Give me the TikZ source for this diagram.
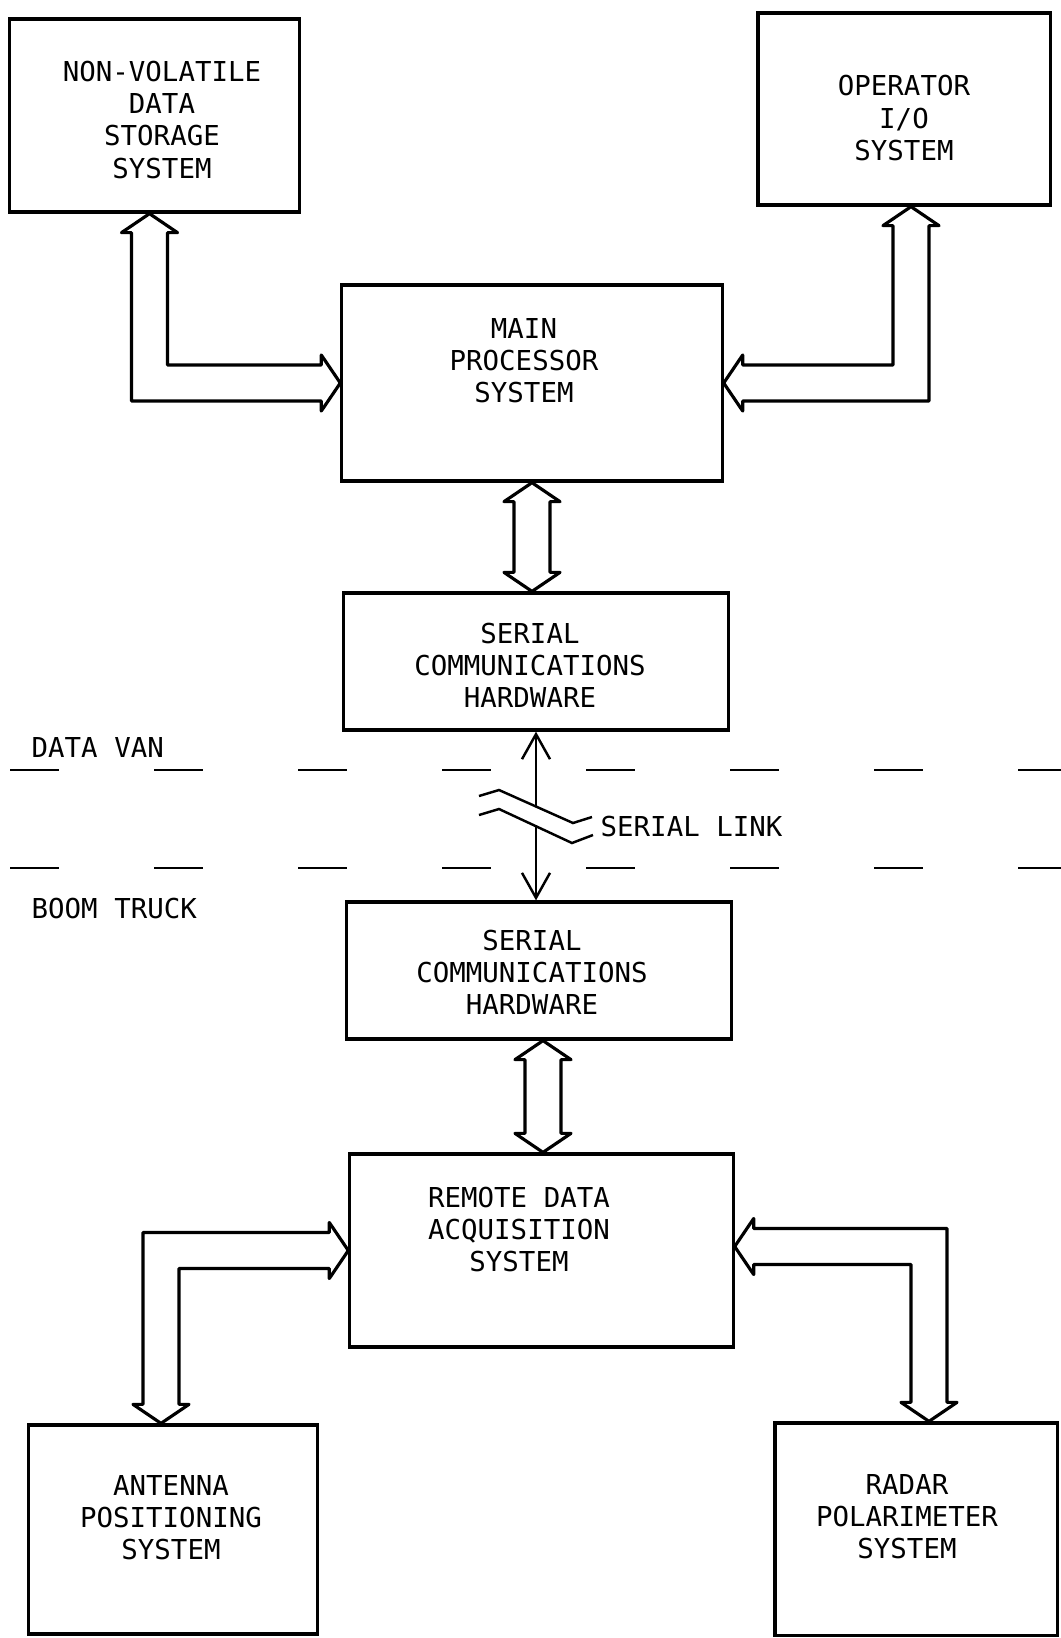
\documentclass[tikz,border=0pt]{standalone}
\usepackage{fontspec}
\usepackage{tikz}
\usetikzlibrary{arrows.meta,positioning,calc}
\newfontfamily\lettering{DejaVu Sans Mono}
\newcommand{\busw}{0.18cm}
\newcommand{\headw}{0.28cm}
\newcommand{\headl}{0.19cm}

\begin{document}
\begin{tikzpicture}[
  x=0.01cm, y=-0.01cm,
  box/.style={draw, line width=0.9pt, inner sep=0pt},
  txt/.style={font=\lettering\fontsize{7.8}{9.1}\selectfont, align=center, inner sep=0pt},
  lbl/.style={font=\lettering\fontsize{7.8}{9.1}\selectfont, inner sep=0pt},
  bus/.style={line width=0.9pt, line join=round},
  link/.style={line width=0.7pt},
  tip/.style={-{Straight Barb[length=2.5mm,width=2.8mm]}},
  divider/.style={line width=0.8pt}
]
  \useasboundingbox (0,0) rectangle (1061,1638);

  % boxes
  \node[box, minimum width=2.89cm, minimum height=1.93cm] (nv)     at (154.5,115.5)  {};
  \node[box, minimum width=2.92cm, minimum height=1.92cm] (op)     at (904,109)      {};
  \node[box, minimum width=3.80cm, minimum height=1.96cm] (main)   at (532,383)      {};
  \node[box, minimum width=3.84cm, minimum height=1.37cm] (ser1)   at (536,661.5)    {};
  \node[box, minimum width=3.84cm, minimum height=1.37cm] (ser2)   at (539,970.5)    {};
  \node[box, minimum width=3.83cm, minimum height=1.93cm] (remote) at (541.5,1250.5) {};
  \node[box, minimum width=2.88cm, minimum height=2.09cm] (ant)    at (173,1529.5)   {};
  \node[box, minimum width=2.82cm, minimum height=2.12cm] (radar)  at (916,1529)     {};

  % box texts
  \node[txt] (nvtxt)     at (162,120)  {NON-VOLATILE\\DATA\\STORAGE\\SYSTEM};
  \node[txt] (optxt)     at (904,118)  {OPERATOR\\I/O\\SYSTEM};
  \node[txt] (maintxt)   at (524,361)  {MAIN\\PROCESSOR\\SYSTEM};
  \node[txt] (ser1txt)   at (530,665)  {SERIAL\\COMMUNICATIONS\\HARDWARE};
  \node[txt] (ser2txt)   at (532,972)  {SERIAL\\COMMUNICATIONS\\HARDWARE};
  \node[txt] (remotetxt) at (519,1229) {REMOTE DATA\\ACQUISITION\\SYSTEM};
  \node[txt] (anttxt)    at (171,1518) {ANTENNA\\POSITIONING\\SYSTEM};
  \node[txt] (radartxt)  at (907,1517) {RADAR\\POLARIMETER\\SYSTEM};

  % van / truck divide
  \foreach \x in {10,154,...,1018} {
    \draw[divider] (\x,770) -- ++(49,0);
    \draw[divider] (\x,868) -- ++(49,0);
  }
  \node[lbl, anchor=west] (van)   at (31,747) {DATA VAN};
  \node[lbl, anchor=west] (truck) at (31,908) {BOOM TRUCK};

  % serial link with break
  \coordinate (brkA) at (536,806.5);
  \coordinate (brkB) at (536,826);
  \coordinate (brkend) at (592,826);
  \draw[link] (479,796) -- (499,790) -- (573,823) -- (592,817);
  \draw[link] (479,815) -- (499,809) -- (572,843) -- (593,835);
  \draw[link, tip] (brkA) -- (brkA |- ser1.south);
  \draw[link, tip] (brkB) -- (brkB |- ser2.north);
  \node[lbl, right=0.08cm of brkend] (lnk) {SERIAL LINK};

  % hollow bus arrows
  \draw[bus] let \p1=($(nv.south)+(-5,0)$), \p2=(main.west) in
    (\p1) -- (\x1+\headw,\y1-\headl) -- (\x1+\busw,\y1-\headl)
    -- (\x1+\busw,\y2+\busw) -- (\x2-\headl,\y2+\busw) -- (\x2-\headl,\y2+\headw)
    -- (\p2) -- (\x2-\headl,\y2-\headw) -- (\x2-\headl,\y2-\busw)
    -- (\x1-\busw,\y2-\busw) -- (\x1-\busw,\y1-\headl) -- (\x1-\headw,\y1-\headl) -- cycle;
  \draw[bus] let \p1=($(op.south)+(7,0)$), \p2=(main.east) in
    (\p1) -- (\x1-\headw,\y1-\headl) -- (\x1-\busw,\y1-\headl)
    -- (\x1-\busw,\y2+\busw) -- (\x2+\headl,\y2+\busw) -- (\x2+\headl,\y2+\headw)
    -- (\p2) -- (\x2+\headl,\y2-\headw) -- (\x2+\headl,\y2-\busw)
    -- (\x1+\busw,\y2-\busw) -- (\x1+\busw,\y1-\headl) -- (\x1+\headw,\y1-\headl) -- cycle;
  \draw[bus] let \p1=(main.south), \p2=(ser1.north) in
    (\p1) -- (\x1+\headw,\y1-\headl) -- (\x1+\busw,\y1-\headl)
    -- (\x1+\busw,\y2+\headl) -- (\x1+\headw,\y2+\headl) -- (\x1,\y2)
    -- (\x1-\headw,\y2+\headl) -- (\x1-\busw,\y2+\headl)
    -- (\x1-\busw,\y1-\headl) -- (\x1-\headw,\y1-\headl) -- cycle;
  \draw[bus] let \p1=($(ser2.south)+(4,0)$), \p2=(remote.north) in
    (\p1) -- (\x1+\headw,\y1-\headl) -- (\x1+\busw,\y1-\headl)
    -- (\x1+\busw,\y2+\headl) -- (\x1+\headw,\y2+\headl) -- (\x1,\y2)
    -- (\x1-\headw,\y2+\headl) -- (\x1-\busw,\y2+\headl)
    -- (\x1-\busw,\y1-\headl) -- (\x1-\headw,\y1-\headl) -- cycle;
  \draw[bus] let \p1=($(ant.north)+(-12,0)$), \p2=(remote.west) in
    (\p1) -- (\x1-\headw,\y1+\headl) -- (\x1-\busw,\y1+\headl)
    -- (\x1-\busw,\y2+\busw) -- (\x2-\headl,\y2+\busw) -- (\x2-\headl,\y2+\headw)
    -- (\p2) -- (\x2-\headl,\y2-\headw) -- (\x2-\headl,\y2-\busw)
    -- (\x1+\busw,\y2-\busw) -- (\x1+\busw,\y1+\headl) -- (\x1+\headw,\y1+\headl) -- cycle;
  \draw[bus] let \p1=($(radar.north)+(13,0)$), \p2=($(remote.east)+(0,-4)$) in
    (\p1) -- (\x1+\headw,\y1+\headl) -- (\x1+\busw,\y1+\headl)
    -- (\x1+\busw,\y2+\busw) -- (\x2+\headl,\y2+\busw) -- (\x2+\headl,\y2+\headw)
    -- (\p2) -- (\x2+\headl,\y2-\headw) -- (\x2+\headl,\y2-\busw)
    -- (\x1-\busw,\y2-\busw) -- (\x1-\busw,\y1+\headl) -- (\x1-\headw,\y1+\headl) -- cycle;
\end{tikzpicture}
\end{document}
